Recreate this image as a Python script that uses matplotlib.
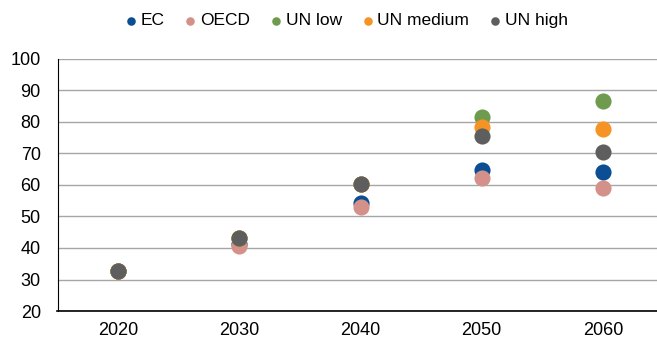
import matplotlib.pyplot as plt

plt.rcParams['font.family'] = ['Liberation Sans', 'DejaVu Sans']

years = ['2020', '2030', '2040', '2050', '2060']
ec = [32.8, 41.2, 54.2, 64.7, 64.0]
oecd = [32.6, 40.7, 53.0, 62.3, 59.0]
un_low = [32.8, 43.2, 60.3, 81.7, 86.6]
un_medium = [32.8, 43.2, 60.3, 78.5, 77.7]
un_high = [32.8, 43.2, 60.3, 75.5, 70.5]

series = [
    ('EC', ec, '#0B4E93'),
    ('OECD', oecd, '#D4918A'),
    ('UN low', un_low, '#6E9B4E'),
    ('UN medium', un_medium, '#F59324'),
    ('UN high', un_high, '#5E5E5E'),
]

fig = plt.figure(figsize=(6.57, 3.41), dpi=100)
ax = fig.add_axes([57.5 / 657, 30 / 341, 606 / 657, 252 / 341])

x = range(len(years))
for name, vals, col in series:
    ax.scatter(x, vals, s=135, color=col, label=name, zorder=3, linewidths=0)

ax.set_xlim(-0.5, 4.5)
ax.set_ylim(20, 100)
ax.set_yticks(range(20, 101, 10))
ax.set_xticks(list(x))
ax.set_xticklabels(years)
ax.yaxis.grid(True, color='#A6A6A6', linewidth=1)
ax.set_axisbelow(True)
for s in ['top', 'right']:
    ax.spines[s].set_visible(False)
ax.spines['left'].set_color('black')
ax.spines['bottom'].set_color('black')
ax.spines['bottom'].set_linewidth(1.2)
ax.tick_params(axis='both', length=0, labelsize=13)
ax.tick_params(axis='y', pad=12)
ax.tick_params(axis='x', pad=8)

leg = fig.legend(loc='center', bbox_to_anchor=(345 / 657, 1 - 20.5 / 341),
                 ncol=5, frameon=False, fontsize=12.5, markerscale=0.53,
                 handletextpad=0.05, columnspacing=1.0, handlelength=1.0,
                 borderpad=0)

fig.savefig('out.png', dpi=100)
